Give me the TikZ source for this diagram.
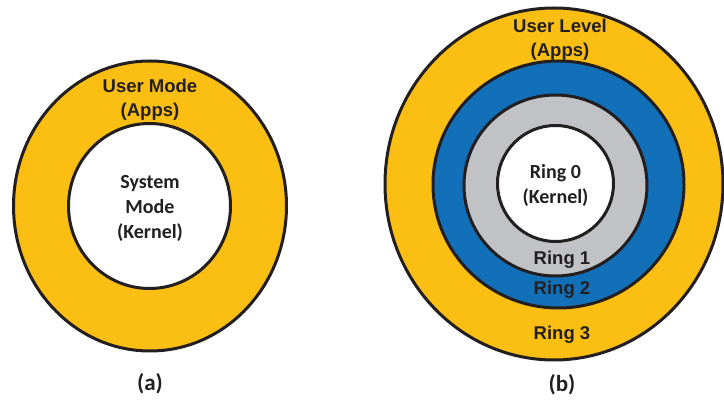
\documentclass[tikz,border=0pt]{standalone}
\usepackage{fontspec}
\setmainfont{Carlito}
\newfontfamily\arialfont{Liberation Sans}
\definecolor{ringyellow}{HTML}{FBBF14}
\definecolor{ringblue}{HTML}{1270B9}
\definecolor{ringgray}{HTML}{C1C2C5}
\definecolor{inkdark}{HTML}{231F20}
\begin{document}
\begin{tikzpicture}[x=1pt,y=-1pt,
  ringline/.style={draw=inkdark,line width=3pt},
  calibritext/.style={text=inkdark,font=\fontsize{20}{25}\selectfont\bfseries,align=center,inner sep=0pt},
  captiontext/.style={text=inkdark,font=\fontsize{23}{28}\selectfont\bfseries,align=center,inner sep=0pt},
  arialtext/.style={text=inkdark,font=\arialfont\fontsize{18.5}{24}\selectfont\bfseries,align=center,inner sep=0pt}]
\useasboundingbox (0,0) rectangle (724,403);
\clip (0,0) rectangle (724,403);
% (a)
\path[ringline,fill=ringyellow] (150,206) ellipse [x radius=136.5,y radius=145];
\path[ringline,fill=white] (149.5,206) ellipse [x radius=81,y radius=82.5];
\node[arialtext] (usermode) at (150,100) {User Mode\\(Apps)};
\node[calibritext] (sysmode) at (150,208) {System\\Mode\\(Kernel)};
\node[captiontext] (labela) at (150,384) {(a)};
% (b)
\path[ringline,fill=ringyellow] (554,184) ellipse [x radius=169,y radius=176];
\path[ringline,fill=ringblue] (558.5,184.5) ellipse [x radius=125.5,y radius=123.5];
\path[ringline,fill=ringgray] (555.5,185.5) ellipse [x radius=91.5,y radius=90.5];
\path[ringline,fill=white] (555.5,183.5) ellipse [x radius=58,y radius=58];
\node[arialtext] (userlevel) at (560,40) {User Level\\(Apps)};
\node[calibritext] (ring0) at (555.5,185.5) {Ring 0\\(Kernel)};
\node[arialtext] (ring1) at (562,260) {Ring 1};
\node[arialtext] (ring2) at (562,290) {Ring 2};
\node[arialtext] (ring3) at (562,335) {Ring 3};
\node[captiontext] (labelb) at (562,385) {(b)};
\end{tikzpicture}
\end{document}
